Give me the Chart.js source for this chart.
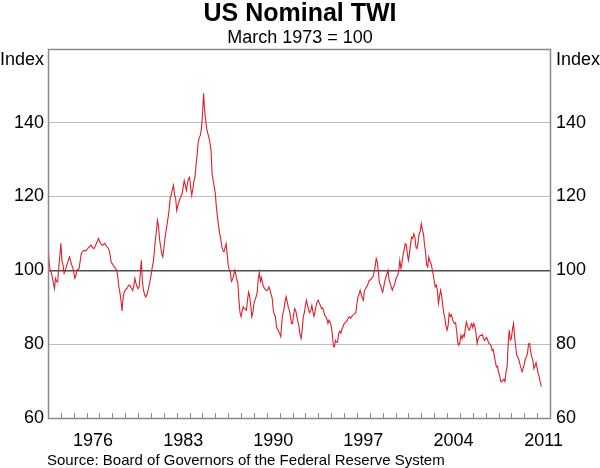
<!DOCTYPE html>
<html>
<head>
<meta charset="utf-8">
<script src="https://cdn.jsdelivr.net/npm/chart.js@4.4.0/dist/chart.umd.min.js"></script>
<style>
  body { margin: 0; background: #fff; }
  #wrap { width: 600px; height: 468px; }
</style>
</head>
<body>
<div id="wrap"><canvas id="twi" width="600" height="468"></canvas></div>
<script>
// monthly US nominal TWI (March 1973 = 100), first value is January 1973
const startYear = 1973;
const twiIndex = [
  108.2, 102.5, 100.0, 99.4, 98.2, 96.5, 95.0, 97.8, 97.0, 96.8, 100.5, 103.8,   // 1973
  107.3, 102.5, 101.5, 99.2, 99.8, 100.9, 101.8, 102.8, 103.6, 102.7, 101.5, 100.8, // 1974
  99.5, 97.8, 98.5, 100.0, 100.2, 100.5, 102.5, 104.5, 105.0, 105.3, 105.4, 105.2,  // 1975
  105.5, 105.9, 106.2, 106.5, 106.8, 106.4, 106.0, 105.9, 106.5, 107.2, 107.8, 108.6, // 1976
  108.0, 107.2, 107.0, 106.8, 107.1, 107.3, 106.8, 106.3, 106.0, 105.4, 104.0, 102.0, // 1977
  101.8, 101.2, 100.9, 100.5, 100.0, 98.5, 95.5, 94.0, 92.0, 89.0, 92.5, 94.1,     // 1978
  94.5, 95.0, 95.2, 95.9, 96.0, 95.5, 95.0, 94.5, 95.8, 97.8, 96.5, 95.5,          // 1979
  95.0, 95.5, 99.0, 102.7, 97.0, 94.6, 93.5, 92.8, 93.2, 94.2, 95.5, 97.0,         // 1980
  98.5, 100.5, 102.0, 104.5, 108.0, 110.5, 113.5, 112.0, 108.5, 106.3, 104.5, 103.6, // 1981
  106.0, 108.5, 110.5, 112.5, 114.4, 116.5, 119.8, 120.5, 122.0, 123.0, 120.5, 119.5, // 1982
  116.2, 117.5, 118.5, 119.4, 120.0, 120.7, 122.5, 124.3, 123.0, 121.6, 123.5, 124.8, // 1983
  125.2, 122.5, 120.3, 122.0, 124.0, 125.2, 128.5, 131.1, 134.5, 136.0, 136.5, 138.3, // 1984
  142.0, 147.9, 143.5, 140.5, 138.3, 137.0, 136.0, 134.5, 132.4, 126.0, 124.3, 122.5, // 1985
  120.7, 117.0, 114.4, 112.0, 110.0, 108.5, 106.5, 105.4, 105.0, 106.0, 107.2, 104.5, // 1986
  101.5, 100.0, 99.5, 97.0, 97.5, 98.5, 100.0, 99.0, 97.5, 96.4, 92.0, 88.5,       // 1987
  87.4, 89.0, 90.1, 89.5, 89.5, 89.2, 92.0, 94.1, 93.0, 90.5, 87.4, 88.5,          // 1988
  91.0, 92.0, 92.8, 94.0, 97.5, 99.5, 97.0, 98.0, 96.5, 95.5, 95.0, 94.6,          // 1989
  94.5, 94.8, 95.5, 94.6, 93.5, 92.5, 89.2, 88.0, 87.5, 84.7, 84.0, 83.5,          // 1990
  82.9, 82.0, 86.0, 88.3, 89.5, 91.5, 92.8, 91.5, 90.0, 89.2, 87.5, 85.6,          // 1991
  85.6, 88.0, 89.6, 89.0, 87.5, 86.0, 84.7, 82.5, 81.5, 84.0, 87.4, 88.5,          // 1992
  90.5, 91.9, 90.5, 89.2, 88.5, 89.2, 90.5, 88.7, 87.5, 89.0, 90.5, 91.5,          // 1993
  91.9, 91.0, 90.5, 89.6, 89.8, 89.0, 87.8, 87.4, 86.8, 85.6, 86.5, 86.0,          // 1994
  85.0, 83.0, 79.5, 79.3, 81.0, 80.5, 80.5, 82.9, 83.5, 83.0, 84.0, 84.7,          // 1995
  85.5, 85.8, 86.0, 86.5, 87.2, 87.4, 87.0, 87.4, 87.8, 88.0, 88.3, 88.5,          // 1996
  91.0, 92.8, 93.5, 94.6, 93.5, 92.5, 91.9, 94.5, 95.0, 95.5, 96.0, 97.0,          // 1997
  97.3, 97.5, 98.0, 98.2, 99.5, 101.0, 103.2, 102.3, 99.5, 96.5, 96.0, 94.8,       // 1998
  94.1, 95.5, 97.0, 98.2, 99.0, 100.0, 97.3, 96.5, 95.5, 94.6, 95.5, 96.0,         // 1999
  97.3, 98.2, 98.5, 100.0, 102.7, 100.5, 102.0, 104.1, 105.5, 107.2, 107.0, 104.5, // 2000
  102.7, 104.5, 107.0, 109.0, 108.6, 109.9, 109.0, 106.3, 105.9, 107.5, 109.9, 110.5, // 2001
  112.6, 111.0, 109.9, 107.0, 104.9, 101.5, 100.9, 103.6, 102.5, 102.0, 100.5, 99.0, // 2002
  97.3, 95.5, 96.0, 94.5, 91.0, 93.0, 94.6, 93.0, 90.5, 88.3, 87.0, 85.0,          // 2003
  83.8, 85.0, 88.3, 87.5, 88.0, 87.0, 86.0, 85.6, 85.8, 83.5, 80.5, 79.7,          // 2004
  80.5, 82.4, 81.5, 82.5, 82.0, 84.0, 86.0, 85.0, 84.0, 83.8, 85.0, 85.6,          // 2005
  84.5, 85.6, 84.7, 83.0, 80.2, 81.5, 82.0, 82.4, 82.3, 82.6, 81.5, 81.0,          // 2006
  81.5, 81.8, 81.0, 80.2, 80.0, 79.6, 78.4, 78.6, 77.0, 75.3, 73.9, 74.0,          // 2007
  72.5, 71.6, 70.0, 69.8, 70.2, 70.5, 69.9, 72.5, 73.9, 80.0, 83.8, 81.1,          // 2008
  81.5, 84.0, 85.6, 82.0, 79.3, 77.0, 76.5, 75.7, 74.5, 73.5, 72.5, 73.5,          // 2009
  74.5, 76.0, 76.6, 77.5, 80.0, 80.2, 78.0, 76.5, 75.7, 73.4, 74.0, 75.0,          // 2010
  73.5, 72.1, 71.0, 69.5, 68.5                                                     // 2011
];
const yearLabels = [1976, 1983, 1990, 1997, 2004, 2011];
const yTicks = [60, 80, 100, 120, 140, 160];

const points = twiIndex.map((v, i) => ({ x: startYear + i / 12, y: v }));

const font = '"Liberation Sans", Arial, Helvetica, sans-serif';

// frame, inward year ticks, "Index" labels and source line
const rbaFrame = {
  id: 'rbaFrame',
  afterDraw(chart) {
    const { ctx, chartArea: a, scales } = chart;
    ctx.save();
    ctx.strokeStyle = '#8a8a8a';
    ctx.lineWidth = 1;
    for (let yr = startYear + 1; yr < 2012; yr++) {
      const px = Math.round(scales.x.getPixelForValue(yr)) + 0.5;
      ctx.beginPath();
      ctx.moveTo(px, a.bottom);
      ctx.lineTo(px, a.bottom - 5);
      ctx.stroke();
    }
    ctx.lineWidth = 1.5;
    ctx.strokeRect(Math.round(a.left) + 0.5, Math.round(a.top) + 0.5,
                   Math.round(a.right - a.left), Math.round(a.bottom - a.top));

    ctx.fillStyle = '#000';
    ctx.font = '18px ' + font;
    ctx.textBaseline = 'middle';
    ctx.textAlign = 'right';
    ctx.fillText('Index', a.left - 4, a.top + 11);
    ctx.textAlign = 'left';
    ctx.fillText('Index', a.right + 6, a.top + 11);

    ctx.font = '15px ' + font;
    ctx.textBaseline = 'alphabetic';
    ctx.fillText('Source: Board of Governors of the Federal Reserve System', 47, 465);
    ctx.restore();
  }
};

const gridColour = c => {
  const v = c.tick.value;
  if (v === 100) return '#4d4d4d';
  if (v === 60 || v === 160) return 'rgba(0,0,0,0)';
  return '#bdbdbd';
};

new Chart(document.getElementById('twi'), {
  type: 'line',
  data: {
    datasets: [{
      label: 'US Nominal TWI',
      data: points,
      borderColor: '#dc1f2b',
      borderWidth: 1.1,
      pointRadius: 0,
      tension: 0
    }]
  },
  options: {
    responsive: false,
    animation: false,
    layout: { padding: 0 },
    plugins: {
      legend: { display: false },
      tooltip: { enabled: false },
      title: {
        display: true,
        text: 'US Nominal TWI',
        color: '#000',
        font: { family: font, size: 25, weight: 'bold', lineHeight: 1 },
        padding: { top: 2, bottom: 1 }
      },
      subtitle: {
        display: true,
        text: 'March 1973 = 100',
        color: '#000',
        font: { family: font, size: 18, lineHeight: 1.15 },
        padding: { top: 0, bottom: 0 }
      }
    },
    scales: {
      x: {
        type: 'linear',
        min: startYear,
        max: 2012,
        afterBuildTicks: s => { s.ticks = yearLabels.map(y => ({ value: y + 0.5 })); },
        ticks: {
          callback: v => Math.round(v - 0.5),
          autoSkip: false,
          maxRotation: 0,
          color: '#000',
          font: { family: font, size: 18 },
          padding: 4
        },
        grid: { display: false },
        border: { display: false },
        afterFit: s => { s.height = 50; }
      },
      y: {
        position: 'left',
        min: 60,
        max: 160,
        afterBuildTicks: s => { s.ticks = yTicks.map(v => ({ value: v })); },
        ticks: {
          callback: v => (v === 160 ? '' : v),
          color: '#000',
          font: { family: font, size: 18 },
          padding: 4
        },
        grid: { drawTicks: false, color: gridColour, lineWidth: c => (c.tick.value === 100 ? 1.5 : 1) },
        border: { display: false },
        afterFit: s => { s.width = 48; }
      },
      y2: {
        position: 'right',
        min: 60,
        max: 160,
        afterBuildTicks: s => { s.ticks = yTicks.map(v => ({ value: v })); },
        ticks: {
          callback: v => (v === 160 ? '' : v),
          color: '#000',
          font: { family: font, size: 18 },
          padding: 6
        },
        grid: { display: false, drawTicks: false },
        border: { display: false },
        afterFit: s => { s.width = 50; }
      }
    }
  },
  plugins: [rbaFrame]
});
</script>
</body>
</html>
